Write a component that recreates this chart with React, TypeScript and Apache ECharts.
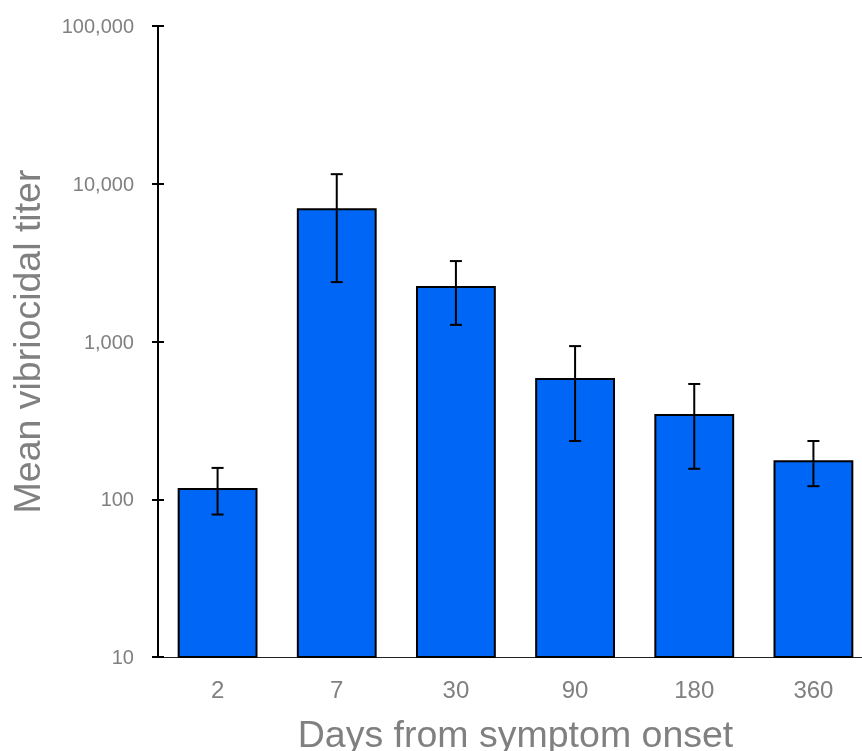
import React, { useEffect, useRef } from "react";
import * as echarts from "echarts";

const categories = ["2", "7", "30", "90", "180", "360"];
const meanTiter = [118, 7000, 2250, 588, 347, 177];
const errLow = [80, 2380, 1275, 234, 156, 121];
const errHigh = [158, 11500, 3235, 935, 538, 234];
const yTicks = [10, 100, 1000, 10000, 100000];

const FONT = "'Liberation Sans', Arial, sans-serif";
const GRAY = "#808080";

export default function App() {
  const ref = useRef<HTMLDivElement>(null);
  useEffect(() => {
    document.body.style.margin = "0";
    document.body.style.overflow = "hidden";
    if (!ref.current) return;
    const chart = echarts.init(ref.current, undefined, { renderer: "svg" });
    const errData = categories.map((_, i) => [i, errLow[i], errHigh[i]]);
    const yAxisBase = {
      type: "log" as const,
      logBase: 10,
      min: yTicks[0],
      max: yTicks[yTicks.length - 1],
      position: "left" as const,
      splitLine: { show: false },
      minorTick: { show: false },
    };
    chart.setOption({
      animation: false,
      textStyle: { fontFamily: FONT },
      grid: {
        left: 158,
        right: -11,
        top: 26,
        bottom: 94,
        containLabel: false,
        outerBoundsMode: "none",
      },
      xAxis: {
        type: "category",
        data: categories,
        axisLine: { show: true, lineStyle: { color: "#222", width: 1.2 } },
        axisTick: { show: false },
        axisLabel: { color: GRAY, fontSize: 24, margin: 20, fontFamily: FONT },
        name: "Days from symptom onset",
        nameLocation: "middle",
        nameGap: 58,
        nameTextStyle: { color: GRAY, fontSize: 37.5, fontFamily: FONT },
      },
      yAxis: [
        {
          ...yAxisBase,
          axisLine: { show: true, lineStyle: { color: "#000", width: 2 } },
          axisTick: { show: true, length: 6, lineStyle: { color: "#000", width: 2 } },
          axisLabel: {
            color: GRAY,
            fontSize: 20,
            margin: 24,
            fontFamily: FONT,
            formatter: (v: number) => Math.round(v).toLocaleString("en-US"),
          },
          name: "Mean vibriocidal titer",
          nameLocation: "middle",
          nameGap: 112,
          nameTextStyle: { color: GRAY, fontSize: 37.5, fontFamily: FONT },
        },
        {
          ...yAxisBase,
          axisLine: { show: false },
          axisTick: { show: true, inside: true, length: 6, lineStyle: { color: "#000", width: 2 } },
          axisLabel: { show: false },
        },
      ],
      series: [
        {
          type: "bar",
          data: meanTiter,
          barWidth: "67%",
          itemStyle: { color: "#0066F5", borderColor: "#000", borderWidth: 2 },
          clip: true,
        },
        {
          type: "custom",
          data: errData,
          z: 10,
          renderItem: (params: any, api: any) => {
            const x = api.value(0);
            const lo = api.coord([x, api.value(1)]);
            const hi = api.coord([x, api.value(2)]);
            const cap = 6;
            const style = { stroke: "#000", lineWidth: 2 };
            return {
              type: "group",
              children: [
                { type: "line", shape: { x1: lo[0], y1: lo[1], x2: hi[0], y2: hi[1] }, style },
                { type: "line", shape: { x1: hi[0] - cap, y1: hi[1], x2: hi[0] + cap, y2: hi[1] }, style },
                { type: "line", shape: { x1: lo[0] - cap, y1: lo[1], x2: lo[0] + cap, y2: lo[1] }, style },
              ],
            };
          },
        },
      ],
    });
    return () => chart.dispose();
  }, []);
  return (
    <div
      ref={ref}
      style={{ position: "fixed", left: 0, top: 0, width: 862, height: 751 }}
    />
  );
}
